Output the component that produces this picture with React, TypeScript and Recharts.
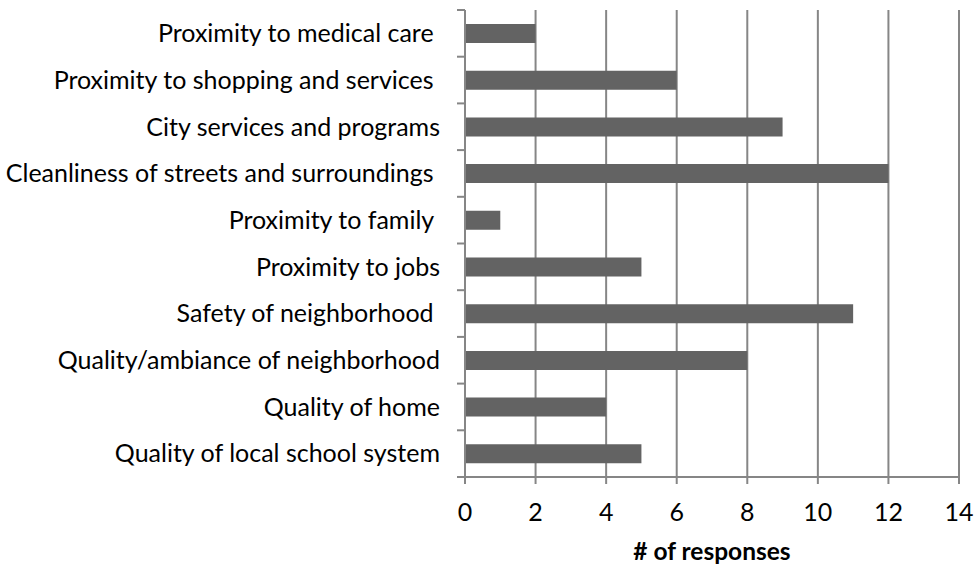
import React from 'react';
import { BarChart, Bar, XAxis, YAxis, CartesianGrid } from 'recharts';

const categories = [
  'Proximity to medical care ',
  'Proximity to shopping and services ',
  'City services and programs',
  'Cleanliness of streets and surroundings ',
  'Proximity to family ',
  'Proximity to jobs',
  'Safety of neighborhood ',
  'Quality/ambiance of neighborhood',
  'Quality of home',
  'Quality of local school system',
];
const responses = [2, 6, 9, 12, 1, 5, 11, 8, 4, 5];
const xTicks = [0, 2, 4, 6, 8, 10, 12, 14];

const data = categories.map((name, i) => ({ name, value: responses[i] }));

const FONT = 'Lato, "Open Sans", sans-serif';
const GREY = '#868686';
const Y_TICK = 8;
const Y_GAP = 17;

// category ticks sit between bars, the way Excel draws them
const CategoryTick = (props: any) => {
  const { x, y, payload, index } = props;
  const half = payload.offset || 0;
  const ax = x + Y_TICK + Y_GAP;
  return (
    <g>
      <line x1={ax - Y_TICK} x2={ax} y1={y - half} y2={y - half} stroke={GREY} strokeWidth={2} />
      {index === categories.length - 1 && (
        <line x1={ax - Y_TICK} x2={ax} y1={y + half} y2={y + half} stroke={GREY} strokeWidth={2} />
      )}
      <text
        x={x}
        y={y}
        dy="0.35em"
        textAnchor="end"
        fill="#000"
        style={{ fontFamily: FONT, fontSize: 25, whiteSpace: 'pre' }}
      >
        {payload.value}
      </text>
    </g>
  );
};

export default function App() {
  return (
    <div style={{ position: 'absolute', left: 0, top: 0 }}>
      <BarChart
        width={977}
        height={566}
        data={data}
        layout="vertical"
        margin={{ top: 10, right: 18, bottom: 0, left: 0 }}
        barCategoryGap={0}
      >
        <CartesianGrid horizontal={false} stroke={GREY} strokeWidth={2} strokeDasharray="" />
        <XAxis
          type="number"
          domain={[0, 14]}
          ticks={xTicks}
          height={89}
          tickSize={7}
          tickMargin={19}
          axisLine={{ stroke: GREY, strokeWidth: 2 }}
          tickLine={{ stroke: GREY, strokeWidth: 2 }}
          tick={{ fill: '#000', fontSize: 25, fontFamily: FONT }}
          label={{
            value: '# of responses',
            position: 'insideBottom',
            offset: 6,
            style: { fontFamily: FONT, fontSize: 24.5, fontWeight: 'bold', fill: '#000' },
          }}
        />
        <YAxis
          type="category"
          dataKey="name"
          width={465}
          tickSize={Y_TICK}
          tickMargin={Y_GAP}
          tickLine={false}
          interval={0}
          axisLine={{ stroke: GREY, strokeWidth: 2 }}
          tick={<CategoryTick />}
        />
        <Bar dataKey="value" fill="#636363" barSize={19} isAnimationActive={false} />
      </BarChart>
    </div>
  );
}
